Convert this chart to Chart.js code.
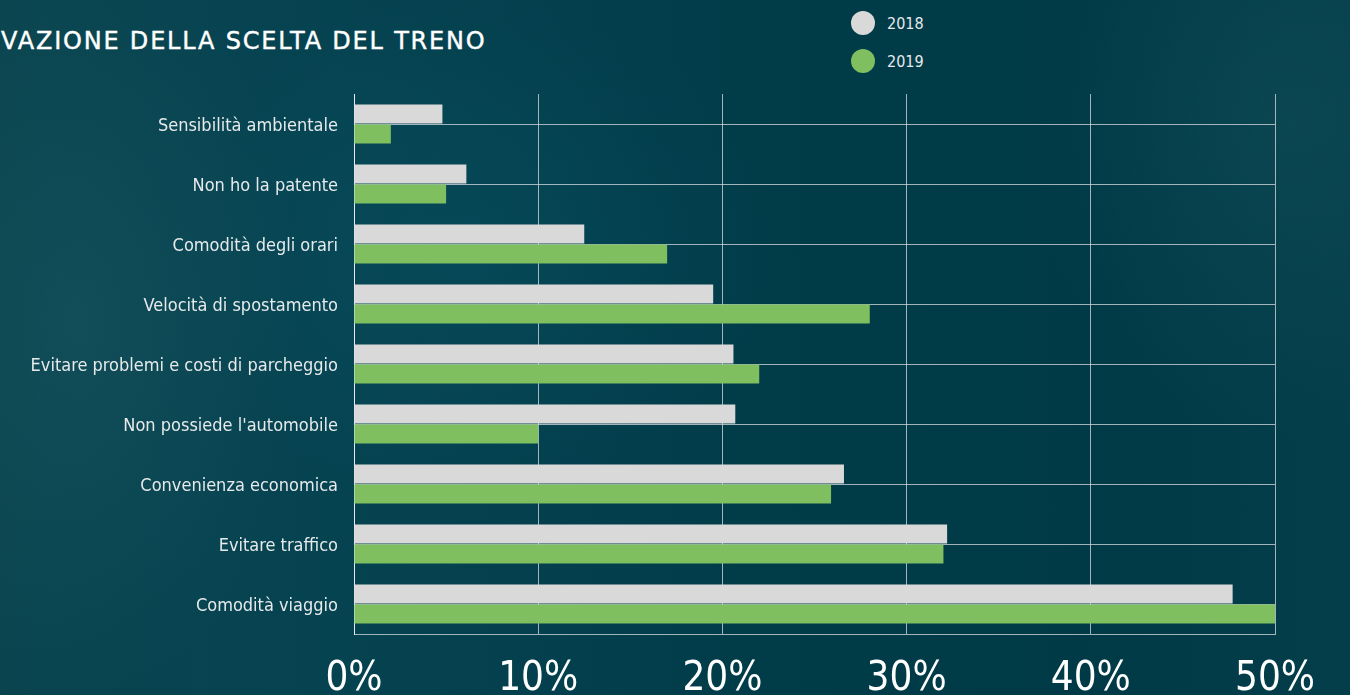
<!DOCTYPE html>
<html>
<head>
<meta charset="utf-8">
<script src="https://cdn.jsdelivr.net/npm/chart.js@4.4.1/dist/chart.umd.min.js"></script>
<style>
  html, body { margin: 0; padding: 0; }
  body {
    width: 1350px; height: 695px; overflow: hidden; position: relative;
    background:
      radial-gradient(ellipse 220px 380px at 80px 320px, rgba(35,95,105,0.35), rgba(0,0,0,0)),
      radial-gradient(ellipse 300px 260px at 470px 250px, rgba(10,90,110,0.30), rgba(0,0,0,0)),
      radial-gradient(ellipse 260px 320px at 1290px 120px, rgba(30,90,100,0.30), rgba(0,0,0,0)),
      linear-gradient(90deg, #09444f 0%, #064351 25%, #013c49 55%, #003a47 80%, #033e4a 100%);
  }
  #title {
    position: absolute; left: 1px; top: 27px;
    font-family: 'DejaVu Sans', sans-serif;
    font-size: 24px; color: #ffffff; letter-spacing: 1.8px;
    -webkit-text-stroke: 0.4px #ffffff;
    white-space: nowrap;
  }
  #legend { position: absolute; left: 851px; top: 11px; }
  .item { display: flex; align-items: center; height: 24px; margin-bottom: 14px; }
  .dot { width: 24px; height: 24px; border-radius: 50%; margin-right: 12px; }
  .lbl { font-family: 'DejaVu Sans Condensed', 'DejaVu Sans', sans-serif; font-size: 16px; color: #e6eaeb; }
  #wrap { position: absolute; left: 0; top: 0; width: 1350px; height: 695px; }
</style>
</head>
<body>
<div id="title">VAZIONE DELLA SCELTA DEL TRENO</div>
<div id="legend"></div>
<div id="wrap"><canvas id="myChart"></canvas></div>
<script>
const categories = [
  'Sensibilità ambientale',
  'Non ho la patente',
  'Comodità degli orari',
  'Velocità di spostamento',
  'Evitare problemi e costi di parcheggio',
  "Non possiede l'automobile",
  'Convenienza economica',
  'Evitare traffico',
  'Comodità viaggio'
];
const seriesNames = ['2018', '2019'];
const values2018 = [4.8, 6.1, 12.5, 19.5, 20.6, 20.7, 26.6, 32.2, 47.7];
const values2019 = [2.0, 5.0, 17.0, 28.0, 22.0, 10.0, 25.9, 32.0, 50.0];
const xTicks = [0, 10, 20, 30, 40, 50];

const colors = ['#d9d9d9', '#7fbf60'];
const gridColor = 'rgba(215,222,225,0.75)';

const ctx = document.getElementById('myChart').getContext('2d');
const chart = new Chart(ctx, {
  type: 'bar',
  data: {
    labels: categories,
    datasets: [
      { label: seriesNames[0], data: values2018, backgroundColor: colors[0],
        categoryPercentage: 0.66, barPercentage: 0.96 },
      { label: seriesNames[1], data: values2019, backgroundColor: colors[1],
        categoryPercentage: 0.66, barPercentage: 0.96 }
    ]
  },
  options: {
    indexAxis: 'y',
    responsive: true,
    maintainAspectRatio: false,
    animation: false,
    layout: { padding: { top: 94, right: 75, left: 0, bottom: 0 } },
    plugins: {
      legend: { display: false },
      tooltip: { enabled: false }
    },
    scales: {
      x: {
        min: 0, max: 50,
        afterBuildTicks: function(scale) {
          scale.ticks = xTicks.map(v => ({ value: v }));
        },
        afterFit: function(scale) { scale.height = 61; },
        grid: { color: gridColor, lineWidth: 1, drawTicks: false },
        border: { display: true, color: gridColor },
        ticks: {
          color: '#ffffff',
          padding: 22,
          maxRotation: 0,
          font: { family: "'Liberation Sans Narrow', 'DejaVu Sans Condensed', sans-serif", size: 40 },
          callback: v => v + '%'
        }
      },
      y: {
        afterFit: function(scale) { scale.width = 354; },
        grid: { color: gridColor, lineWidth: 1, offset: false, drawTicks: false },
        border: { display: true, color: '#e6eaeb' },
        ticks: {
          color: '#e6eaeb',
          padding: 16,
          labelOffset: 2,
          font: { family: "'DejaVu Sans Condensed', 'DejaVu Sans', sans-serif", size: 18 }
        }
      }
    }
  }
});

// legend built from the chart's datasets
const legendEl = document.getElementById('legend');
chart.data.datasets.forEach(ds => {
  const item = document.createElement('div');
  item.className = 'item';
  const dot = document.createElement('div');
  dot.className = 'dot';
  dot.style.background = ds.backgroundColor;
  const lbl = document.createElement('span');
  lbl.className = 'lbl';
  lbl.textContent = ds.label;
  item.appendChild(dot);
  item.appendChild(lbl);
  legendEl.appendChild(item);
});
</script>
</body>
</html>
